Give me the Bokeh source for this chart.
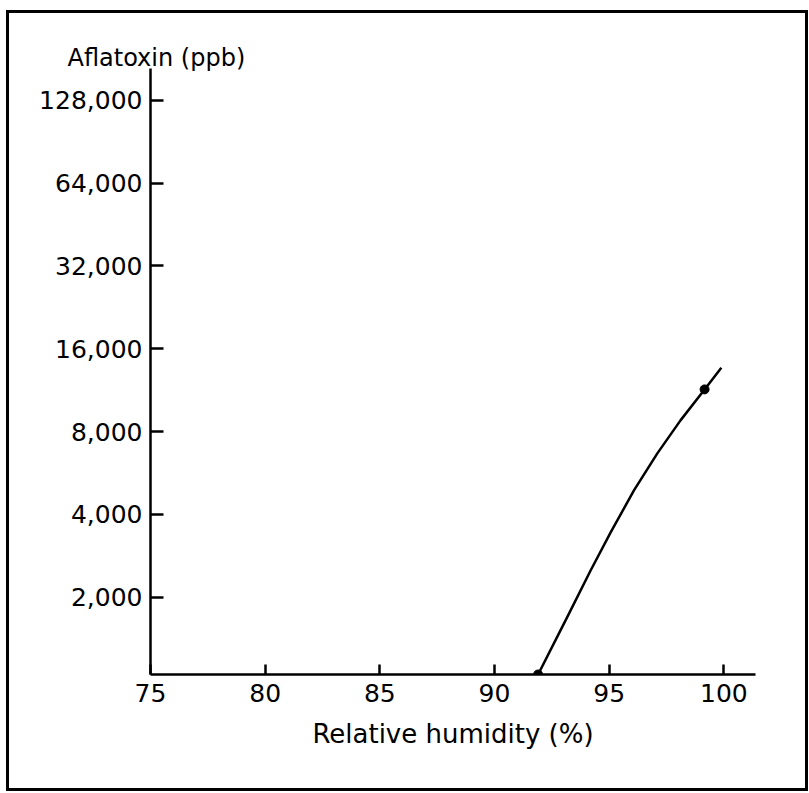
from bokeh.plotting import figure
from bokeh.models import FixedTicker, NumeralTickFormatter, Title, Range1d
from bokeh.layouts import column
from bokeh.embed import file_html
from bokeh.resources import INLINE

# Data
humidity = [91.9, 93.17, 94.19, 95.07, 96.08, 97.10, 98.11, 99.16, 99.89]
aflatoxin = [1047, 1692, 2501, 3447, 4886, 6663, 8783, 11383, 13652]
point_humidity = [91.9, 99.16]
point_aflatoxin = [1047, 11383]
x_ticks = [75, 80, 85, 90, 95, 100]
y_ticks = [2000, 4000, 8000, 16000, 32000, 64000, 128000]

FONT = "DejaVu Sans"

p = figure(
    width=796, height=775,
    y_axis_type="log",
    x_range=Range1d(75, 101.38),
    y_range=Range1d(1047, 167000),
    output_backend="svg",
    toolbar_location=None,
    background_fill_color="white",
    border_fill_color="white",
)
p.min_border_left = 141
p.min_border_right = 50
p.min_border_top = 55
p.min_border_bottom = 114
p.outline_line_color = None
p.grid.visible = False

for ax in (p.xaxis[0], p.yaxis[0]):
    ax.axis_line_width = 2.5
    ax.axis_line_color = "black"
    ax.major_tick_line_width = 2.5
    ax.major_tick_line_color = "black"
    ax.major_tick_out = 0
    ax.minor_tick_in = 0
    ax.minor_tick_out = 0
    ax.major_label_text_font = FONT
    ax.major_label_text_font_size = "25px"
    ax.major_label_text_color = "black"
    ax.axis_label_text_font = FONT
    ax.axis_label_text_font_size = "26px"
    ax.axis_label_text_font_style = "normal"
    ax.axis_label_text_color = "black"

xa = p.xaxis[0]
xa.ticker = FixedTicker(ticks=x_ticks)
xa.major_tick_in = 10
xa.major_label_standoff = 9
xa.axis_label = "Relative humidity (%)"
xa.axis_label_standoff = 14

ya = p.yaxis[0]
ya.ticker = FixedTicker(ticks=y_ticks)
ya.formatter = NumeralTickFormatter(format="0,0")
ya.major_tick_in = 13
ya.major_label_standoff = 8

p.line(humidity, aflatoxin, line_color="black", line_width=2.5)
p.scatter(point_humidity, point_aflatoxin, size=9, fill_color="black", line_color="black")

p.add_layout(Title(
    text="Aflatoxin (ppb)", align="left", offset=-83, standoff=-6,
    vertical_align="bottom",
    text_font=FONT, text_font_size="24px", text_font_style="normal",
    text_color="black",
), "above")

layout = column(p, styles={"margin-left": "6px", "margin-top": "10px",
                           "border": "3px solid black"})

open("out.html", "w").write(file_html(layout, INLINE))
